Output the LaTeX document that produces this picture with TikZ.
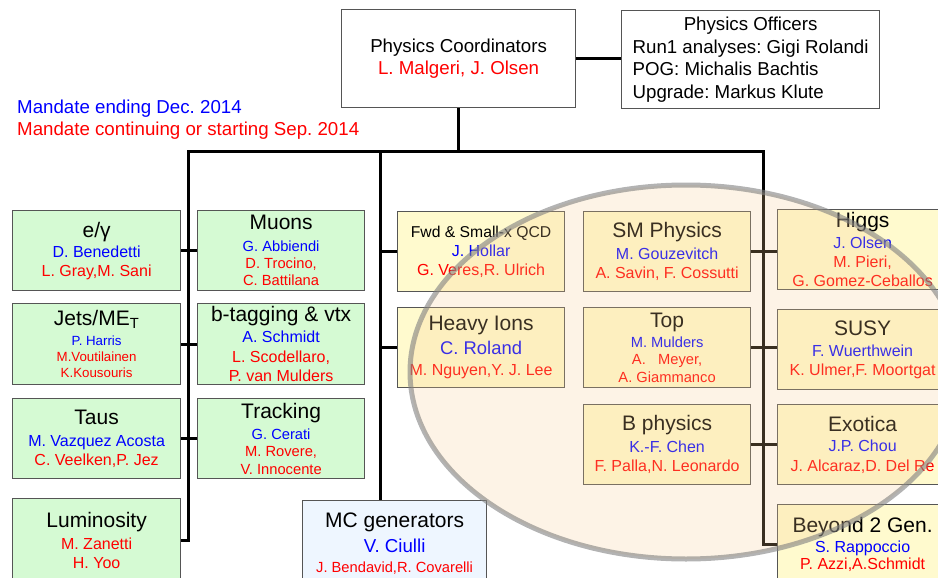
\documentclass[tikz,border=0pt]{standalone}
\usepackage{fontspec}
\setmainfont{Liberation Sans}
\frenchspacing
\definecolor{grnbox}{RGB}{213,250,211}
\definecolor{ylwbox}{RGB}{255,250,206}
\definecolor{mcbox}{RGB}{238,246,255}
\definecolor{ringfill}{RGB}{248,205,145}
\definecolor{lnbox}{RGB}{85,85,85}
\newcommand{\fs}[2]{\fontsize{#1}{#2}\selectfont}
\newcommand{\hd}[1]{{\fs{21}{21}#1}}
\newcommand{\bl}[1]{\textcolor{blue}{#1}}
\newcommand{\rd}[1]{\textcolor{red}{#1}}

\begin{document}
\begin{tikzpicture}[x=1pt,y=-1pt,
  box/.style={draw=lnbox, line width=1.2pt, anchor=north west, inner sep=0pt, align=center,
    minimum width=168pt, minimum height=80pt, font=\fs{16}{19}},
  grn/.style={box, fill=grnbox},
  ylw/.style={box, fill=ylwbox},
  conn/.style={line width=3pt},
  ring/.style={fill=ringfill, fill opacity=0.23, draw=gray, draw opacity=0.6, line width=5pt}]

\useasboundingbox (0,0) rectangle (938,578);
\clip (0,0) rectangle (938,578);

% coordinators and officers
\node[box, fill=white, minimum width=234pt, minimum height=98pt, font=\fs{18.7}{22.5}] (coord) at (341,9)
  {Physics Coordinators\\\rd{L. Malgeri, J. Olsen}};
\node[box, fill=white, minimum width=258pt, minimum height=98pt, align=left,
  font=\fs{18.7}{22.5}] (officers) at (621,10)
  {\makebox[236pt]{Physics Officers}\\ Run1 analyses: Gigi Rolandi\\ POG: Michalis Bachtis\\ Upgrade: Markus Klute};

\node[anchor=north west, inner sep=0pt, align=left, font=\fs{18.7}{22}] (legend) at (17,100)
  {\bl{Mandate ending Dec. 2014}\\\rd{Mandate continuing or starting Sep. 2014}};

% left groups
\node[grn] (egamma) at (12,210) {\hd{e/γ}\\[1pt]\bl{D. Benedetti}\\\rd{L. Gray,M. Sani}};
\node[grn, minimum width=167pt, font=\fs{14.7}{17}] (muons) at (197,210)
  {\hd{Muons}\\[5pt]\bl{G. Abbiendi}\\\rd{D. Trocino,}\\\rd{C. Battilana}};
\node[grn, minimum height=81pt, font=\fs{13.3}{16}] (jets) at (12,303)
  {\hd{Jets/ME\textsubscript{T}}\\[4pt]\bl{P. Harris}\\\rd{M.Voutilainen}\\\rd{K.Kousouris}};
\node[grn, minimum width=167pt, minimum height=81pt, font=\fs{16}{19.5}] (btag) at (197,303)
  {\hd{b-tagging \& vtx}\\[1.5pt]\bl{A. Schmidt}\\\rd{L. Scodellaro,}\\\rd{P. van Mulders}};
\node[grn] (taus) at (12,398) {\hd{Taus}\\[3pt]\bl{M. Vazquez Acosta}\\\rd{C. Veelken,P. Jez}};
\node[grn, minimum width=167pt, font=\fs{14.7}{17.5}] (track) at (197,398)
  {\hd{Tracking}\\[3.5pt]\bl{G. Cerati}\\\rd{M. Rovere,}\\\rd{V. Innocente}};
\node[grn, minimum height=83pt] (lumi) at (12,498) {\hd{Luminosity}\\[3pt]\rd{M. Zanetti}\\\rd{H. Yoo}};

\node[box, fill=mcbox, minimum width=184pt, minimum height=87pt, font=\fs{14.7}{20}] (mc) at (302,500)
  {\hd{MC generators}\\[5pt]{\fs{18.7}{20}\bl{V. Ciulli}}\\\rd{J. Bendavid,R. Covarelli}};

% middle groups
\node[ylw, minimum width=167pt] (fwd) at (397,211)
  {{\fs{15.7}{19}Fwd \& Small-x QCD}\\\bl{J. Hollar}\\\rd{G. Veres,R. Ulrich}};
\node[ylw, minimum width=167pt, font=\fs{16}{21}] (ions) at (397,307)
  {\hd{Heavy Ions}\\[3pt]{\fs{18.4}{21}\bl{C. Roland}}\\\rd{M. Nguyen,Y. J. Lee}};
\node[ylw, minimum width=167pt] (sm) at (583,211)
  {\hd{SM Physics}\\[3pt]\bl{M. Gouzevitch}\\\rd{A. Savin, F. Cossutti}};
\node[ylw, minimum width=167pt, font=\fs{14.7}{17.5}] (top) at (583,307)
  {\hd{Top}\\[2.5pt]\bl{M. Mulders}\\\rd{A.\ \ \ Meyer,}\\\rd{A. Giammanco}};
\node[ylw, minimum width=167pt] (bphys) at (583,404)
  {\hd{B physics}\\[3pt]\bl{K.-F. Chen}\\\rd{F. Palla,N. Leonardo}};

% right groups
\node[ylw, minimum width=170pt] (higgs) at (777,209)
  {\hd{Higgs}\\[2pt]\bl{J. Olsen}\\\rd{M. Pieri,}\\\rd{G. Gomez-Ceballos}};
\node[ylw, minimum width=170pt] (susy) at (777,309)
  {\hd{SUSY}\\[2pt]\bl{F. Wuerthwein}\\\rd{K. Ulmer,F. Moortgat}};
\node[ylw, minimum width=170pt, font=\fs{16}{20}] (exotica) at (777,404)
  {\hd{Exotica}\\\bl{J.P. Chou}\\\rd{J. Alcaraz,D. Del Re}};
\node[ylw, minimum width=170pt, font=\fs{16}{16.5}] (beyond) at (777,504)
  {\hd{Beyond 2 Gen.}\\[3.5pt]\bl{S. Rappoccio}\\\rd{P. Azzi,A.Schmidt}};

% connectors
\coordinate (busL) at (188,151);
\coordinate (busM) at (380,151);
\coordinate (busR) at (763,151);

\draw[conn] (coord.east) -- (coord.east -| officers.west);
\draw[conn] (coord.south) -- (coord.south |- busL);
\draw[conn] (lumi.east) -| (busL) -- (busR) |- (beyond.west);
\draw[conn] (busM) -- (busM |- mc.north);
\draw[conn] (fwd.west) -- (fwd.west -| busM);
\draw[conn] (ions.west) -- (ions.west -| busM);
\draw[conn] (egamma) -- (muons);
\draw[conn] (jets) -- (btag);
\draw[conn] (taus) -- (track);
\draw[conn] (sm.east) -- (sm.east -| higgs.west);
\draw[conn] (top.east) -- (top.east -| susy.west);
\draw[conn] (bphys.east) -- (bphys.east -| exotica.west);

% highlighted physics analysis groups
\draw[ring] (686,372) ellipse [x radius=276pt, y radius=187pt];

\end{tikzpicture}
\end{document}
